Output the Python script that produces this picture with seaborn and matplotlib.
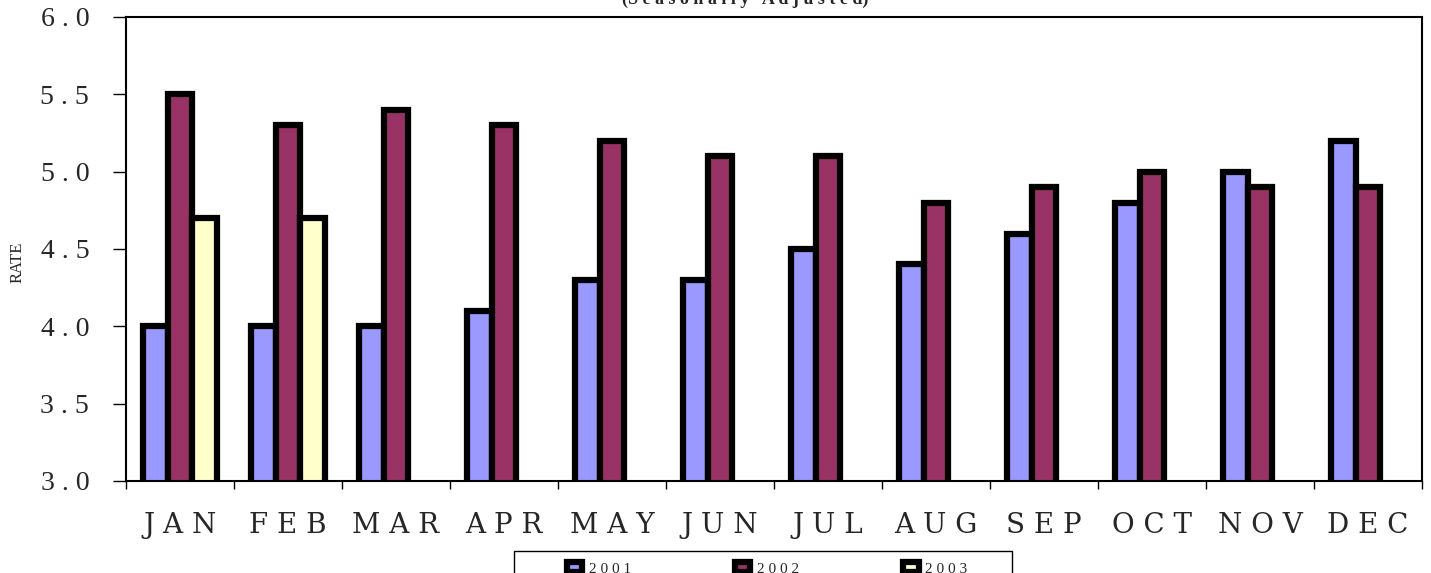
import numpy as np
import pandas as pd
import seaborn as sns
import matplotlib.pyplot as plt
from matplotlib.patches import Patch, Rectangle

months = ["JAN", "FEB", "MAR", "APR", "MAY", "JUN", "JUL", "AUG", "SEP", "OCT", "NOV", "DEC"]
years = ["2001", "2002", "2003"]
rate_2001 = [4.0, 4.0, 4.0, 4.1, 4.3, 4.3, 4.5, 4.4, 4.6, 4.8, 5.0, 5.2]
rate_2002 = [5.5, 5.3, 5.4, 5.3, 5.2, 5.1, 5.1, 4.8, 4.9, 5.0, 4.9, 4.9]
rate_2003 = [4.7, 4.7]
yticks = [3.0, 3.5, 4.0, 4.5, 5.0, 5.5, 6.0]

colors = {"2001": "#9999FF", "2002": "#993366", "2003": "#FFFFCC"}

rows = []
for yr, vals in zip(years, [rate_2001, rate_2002, rate_2003]):
    for m, v in zip(months, vals):
        rows.append({"month": m, "year": yr, "rate": v})
df = pd.DataFrame(rows)

sns.set_style("white")
plt.rcParams['font.family'] = ['DejaVu Serif']

def spaced(s):
    return " ".join(s)

W, H = 1431, 573
fig = plt.figure(figsize=(W / 100, H / 100), dpi=100)
ax = fig.add_axes([126 / W, 1 - 481 / H, (1422 - 126) / W, (481 - 17) / H])

sns.barplot(data=df, x="month", y="rate", hue="year", order=months, hue_order=years,
            palette=colors, width=0.69, edgecolor="black", linewidth=4.5,
            legend=False, ax=ax, errorbar=None, saturation=1)

ax.set_ylim(3.0, 6.0)
ax.set_xlim(-0.5, len(months) - 0.5)
ax.set_yticks(yticks)
ax.set_yticklabels([spaced(f"{t:.1f}") for t in yticks], fontsize=20, family="Liberation Serif")
ax.set_xticks(range(len(months)))
ax.set_xticklabels([spaced(m) for m in months], fontsize=20)
ax.set_xticks(np.arange(-0.5, len(months), 1.0), minor=True)
ax.tick_params(axis="x", which="major", length=0, pad=22)
ax.tick_params(axis="x", which="minor", length=6, width=1, color="black", direction="out", bottom=True)
ax.tick_params(axis="y", length=9.5, width=1, color="black", direction="out", left=True, pad=17)
ax.set_xlabel("")
ax.set_ylabel("")
for sp in ax.spines.values():
    sp.set_color("black")
    sp.set_linewidth(1.5)

fig.text(18 / W, 1 - 262 / H, "RATE", rotation=90, ha="center", va="center",
         fontsize=12, family="Liberation Serif")

fig.text(745 / W, 1 - 4 / H, "(" + spaced("Seasonally") + "   " + spaced("Adjusted") + ")",
         ha="center", va="baseline", fontsize=13, fontweight="bold", family="Liberation Serif")

# legend box at the bottom, cut off by the figure edge
fig.patches.append(Rectangle((514 / W, -0.02), (1012 - 514) / W, 0.02 + 1 - 551 / H,
                             transform=fig.transFigure, facecolor="white",
                             edgecolor="black", linewidth=1.0))
handles = [Patch(facecolor=colors[y], edgecolor="black", linewidth=4.5) for y in years]
leg = fig.legend(handles, [spaced(y) for y in years], loc="center left",
                 bbox_to_anchor=(567 / W, 1 - 569 / H), ncol=3,
                 prop={"family": "Liberation Serif", "size": 11},
                 frameon=False, handlelength=1.0, handleheight=0.6,
                 handletextpad=0.45, columnspacing=6.8, borderpad=0, borderaxespad=0)

fig.savefig("out.png", dpi=100)
